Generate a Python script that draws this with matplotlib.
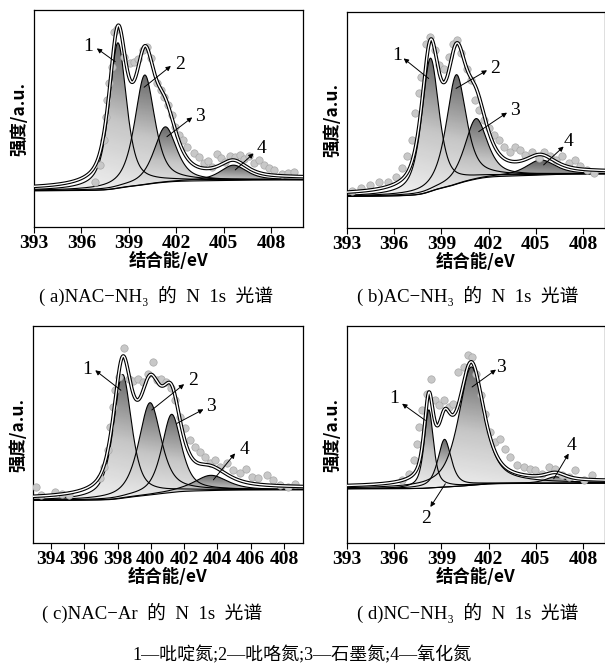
import numpy as np
import matplotlib.pyplot as plt
from matplotlib.colors import LinearSegmentedColormap

plt.rcParams['font.family'] = ['Liberation Serif', 'Noto Sans CJK SC', 'DejaVu Sans']

# fitted components 1..4: centre (eV), height, FWHM (eV); background ends (left, right)
a_center = [398.3, 400.0, 401.3, 405.6]
a_height = [67.0, 50.5, 25.5, 7.0]
a_fwhm = [1.3, 1.5, 1.7, 2.0]
a_bg = [16.7, 21.7]

b_center = [398.3, 399.95, 401.2, 405.3]
b_height = [61.7, 50.7, 28.0, 7.0]
b_fwhm = [1.3, 1.5, 1.7, 2.2]
b_bg = [14.6, 25.0]

c_center = [398.3, 399.95, 401.25, 403.6]
c_height = [57.0, 42.5, 36.0, 7.0]
c_fwhm = [1.3, 1.6, 1.4, 2.4]
c_bg = [19.6, 24.5]

d_center = [398.2, 399.2, 400.9, 406.25]
d_height = [36.0, 22.0, 54.5, 3.0]
d_fwhm = [0.7, 1.0, 1.9, 1.5]
d_bg = [25.0, 27.6]

# measured points (eV, intensity)
a_px = [396.86, 397.18, 397.43, 397.56, 397.64, 397.77, 397.92, 398.06, 398.27, 398.7,
        399.08, 399.33, 399.6, 399.88, 400.13, 400.38, 400.76, 401.02, 401.23, 401.5,
        401.71, 401.93, 402.14, 402.41, 402.66, 403.09, 403.4, 403.72, 403.97, 404.25,
        404.56, 404.82, 405.09, 405.41, 405.72, 406.0, 406.25, 406.57, 406.88, 407.2,
        407.51, 407.83, 408.15, 408.68, 409.04, 409.42]
a_py = [20.9, 28.6, 40.1, 50.8, 58.5, 66.2, 73.9, 90.0, 91.1, 78.5,
        75.4, 76.2, 77.3, 81.6, 83.1, 77.7, 66.2, 63.1, 60.1, 56.2,
        51.6, 46.2, 42.4, 40.1, 37.0, 33.9, 32.4, 29.3, 30.6, 27.8,
        33.6, 31.6, 30.1, 32.7, 32.1, 33.2, 31.2, 32.7, 29.6, 30.9,
        28.6, 27.0, 26.3, 24.4, 25.0, 25.5]

b_px = [393.32, 393.91, 394.48, 395.06, 395.61, 396.11, 396.5, 396.81, 397.13, 397.34,
        397.56, 397.73, 398.02, 398.3, 398.57, 398.83, 399.15, 399.46, 399.72, 399.99,
        400.27, 400.63, 400.9, 401.16, 401.41, 401.69, 402.01, 402.32, 402.64, 402.96,
        403.38, 403.7, 404.02, 404.34, 404.76, 405.18, 405.5, 405.93, 406.29, 406.67,
        407.09, 407.52, 407.83, 408.26, 408.68]
b_py = [16.9, 18.5, 20.0, 21.1, 21.5, 23.8, 27.7, 33.1, 40.8, 53.1,
        62.3, 70.0, 85.4, 88.5, 82.3, 75.4, 73.8, 79.2, 85.4, 86.9,
        80.8, 73.8, 68.5, 59.2, 54.6, 50.0, 46.2, 43.1, 40.8, 37.7,
        35.4, 37.7, 36.2, 33.8, 35.4, 32.3, 35.4, 33.1, 31.5, 33.1,
        30.0, 31.5, 28.5, 26.9, 25.4]

c_px = [393.12, 393.4, 394.26, 394.66, 395.06, 396.96, 397.2, 397.4, 397.56, 397.72,
        397.86, 398.06, 398.36, 398.66, 398.92, 399.2, 399.52, 399.8, 400.12, 400.36,
        400.6, 400.92, 401.2, 401.46, 401.76, 402.06, 402.36, 402.66, 402.96, 403.26,
        403.56, 403.86, 404.16, 404.56, 404.96, 405.36, 405.72, 406.06, 406.46, 406.96,
        407.36, 407.76, 408.26, 408.66]
c_py = [26.0, 22.2, 23.7, 22.7, 22.2, 29.9, 35.2, 42.9, 53.6, 62.8,
        70.4, 76.6, 90.0, 75.8, 74.7, 75.8, 74.3, 78.1, 83.5, 75.0,
        75.8, 74.3, 71.2, 65.8, 58.2, 52.8, 47.5, 44.4, 42.1, 39.8,
        36.8, 38.3, 35.2, 36.8, 33.7, 32.2, 34.0, 30.6, 29.9, 31.4,
        29.1, 26.8, 26.0, 27.3]

d_px = [396.5, 396.92, 397.24, 397.45, 397.6, 397.77, 398.09, 398.36, 398.62, 398.87,
        399.15, 399.46, 399.72, 400.06, 400.42, 400.69, 400.95, 401.2, 401.54, 401.79,
        402.11, 402.43, 402.75, 403.07, 403.38, 403.81, 404.23, 404.65, 404.97, 405.4,
        405.82, 406.24, 406.67, 407.09, 407.52, 408.04, 408.57]
d_py = [28.9, 32.0, 38.1, 45.8, 53.5, 61.1, 68.8, 75.7, 65.7, 63.4,
        65.7, 62.7, 64.2, 78.8, 81.1, 86.5, 85.7, 78.0, 68.0, 59.6,
        51.2, 46.5, 48.1, 43.5, 39.6, 35.8, 35.0, 34.3, 33.5, 32.0,
        35.0, 34.3, 31.2, 30.4, 33.5, 28.9, 31.2]

captions = ['( a)NAC\u2212NH\u2083  的  N  1s  光谱', '( b)AC\u2212NH\u2083  的  N  1s  光谱',
            '( c)NAC\u2212Ar  的  N  1s  光谱', '( d)NC\u2212NH\u2083  的  N  1s  光谱']
legend_text = '1—吡啶氮;2—吡咯氮;3—石墨氮;4—氧化氮'

cmap = LinearSegmentedColormap.from_list('shade', ['#f8f8f8', '#c0c0c0', '#454545'])


def pv(x, c, h, w, eta=0.65):
    u = (x - c) / w
    return h * (eta / (1 + 4 * u ** 2) + (1 - eta) * np.exp(-4 * np.log(2) * u ** 2))


def draw(ax, center, height, fwhm, bg_ends, px, py, xlim, ticks, notes):
    x = np.linspace(xlim[0], xlim[1], 900)
    peaks = [pv(x, c, h, w) for c, h, w in zip(center, height, fwhm)]
    total = np.sum(peaks, axis=0)
    cum = np.cumsum(total)
    bg = bg_ends[0] + (bg_ends[1] - bg_ends[0]) * cum / cum[-1]

    for p in peaks:
        top = bg + p
        m = p > 0.01 * p.max()
        poly = ax.fill_between(x[m], bg[m], top[m], facecolor='none', edgecolor='none')
        vy = np.linspace(0, 1, 200)[:, None]
        vx = np.linspace(0, 1, 200)[None, :]
        img = np.clip(0.8 * vy + 0.25 * vx, 0, 1)
        im = ax.imshow(img, extent=[x[m].min(), x[m].max(), bg[m].min(), top.max()],
                       origin='lower', cmap=cmap, vmin=0, vmax=1, aspect='auto',
                       alpha=0.9, zorder=2)
        im.set_clip_path(poly.get_paths()[0], ax.transData)
        ax.plot(x, top, color='black', lw=0.8, zorder=3)
    ax.plot(x, bg, color='black', lw=0.8, zorder=3)

    ax.plot(px, py, 'o', ms=5.3, mfc='#c8c8c8', mec='#a8a8a8', mew=0.5, zorder=4)

    env = bg + total + 0.8
    ax.plot(x, env, color='black', lw=2.6, zorder=5)
    ax.plot(x, env, color='white', lw=1.0, zorder=6)

    for num, txt_xy, start, end in notes:
        ax.text(txt_xy[0], txt_xy[1], num, fontsize=14, ha='center', va='center', zorder=7)
        ax.annotate('', xy=end, xytext=start,
                    arrowprops=dict(arrowstyle='-|>', color='black', lw=0.7,
                                    mutation_scale=7, shrinkA=0, shrinkB=0), zorder=7)

    ax.set_xlim(xlim)
    ax.set_ylim(0, 100)
    ax.set_xticks(ticks)
    ax.set_xticklabels([str(t) for t in ticks])
    ax.set_yticks([])
    ax.tick_params(axis='x', direction='out', length=4, width=0.8, labelsize=14, pad=2)
    for lab in ax.get_xticklabels():
        lab.set_fontweight('bold')
    for s in ax.spines.values():
        s.set_linewidth(0.9)
    ax.set_xlabel('结合能/eV', family=['Noto Sans CJK SC'], fontweight='bold',
                  fontsize=12.5, labelpad=0)
    ax.set_ylabel('强度/a.u.', family=['Noto Sans CJK SC'], fontweight='bold',
                  fontsize=12.5, labelpad=4)


fig = plt.figure(figsize=(6.05, 6.66), dpi=100)
ax_a = fig.add_axes([0.0562, 0.6592, 0.4446, 0.3258])
ax_b = fig.add_axes([0.5736, 0.6577, 0.4264, 0.3243])
ax_c = fig.add_axes([0.0545, 0.1847, 0.4463, 0.3258])
ax_d = fig.add_axes([0.5736, 0.1847, 0.4264, 0.3258])

t3 = [393, 396, 399, 402, 405, 408]
t2 = [394, 396, 398, 400, 402, 404, 406, 408]

draw(ax_a, a_center, a_height, a_fwhm, a_bg, a_px, a_py, (393, 410.0), t3,
     [('1', (396.44, 83.1), (398.13, 76.2), (396.97, 82.3)),
      ('2', (402.24, 74.7), (399.96, 64.4), (401.65, 74.2)),
      ('3', (403.5, 50.8), (401.4, 41.6), (403.0, 50.5)),
      ('4', (407.4, 36.3), (405.72, 26.3), (406.88, 33.9))])
draw(ax_b, b_center, b_height, b_fwhm, b_bg, b_px, b_py, (393, 409.4), t3,
     [('1', (396.18, 80.0), (398.19, 69.2), (396.6, 78.5)),
      ('2', (402.43, 73.8), (399.93, 64.6), (401.9, 73.0)),
      ('3', (403.7, 54.6), (401.37, 44.6), (403.17, 53.4)),
      ('4', (407.09, 40.0), (405.5, 29.2), (406.77, 37.7))])
draw(ax_c, c_center, c_height, c_fwhm, c_bg, c_px, c_py, (392.92, 409.14), t2,
     [('1', (396.2, 79.9), (398.2, 70.4), (396.66, 79.6)),
      ('2', (402.56, 75.0), (400.06, 61.3), (402.0, 73.2)),
      ('3', (403.62, 62.8), (401.56, 55.1), (403.16, 61.6)),
      ('4', (405.6, 42.9), (403.76, 29.1), (405.06, 41.3))])
draw(ax_d, d_center, d_height, d_fwhm, d_bg, d_px, d_py, (393, 409.4), t3,
     [('1', (395.97, 66.5), (397.98, 56.5), (396.5, 64.2)),
      ('3', (402.81, 81.1), (400.95, 71.9), (402.47, 79.9)),
      ('4', (407.3, 45.0), (406.14, 29.6), (407.09, 41.2)),
      ('2', (398.02, 11.2), (399.25, 27.3), (398.3, 16.6))])

cap_pos = [(156, 296), (468, 296), (152, 613), (468, 613)]
for (cx, cy), cap in zip(cap_pos, captions):
    fig.text(cx / 605, 1 - cy / 666, cap, ha='center', va='center', fontsize=13.5)
fig.text(302 / 605, 1 - 655 / 666, legend_text, ha='center', va='center', fontsize=13)

fig.savefig('out.png', dpi=100)
